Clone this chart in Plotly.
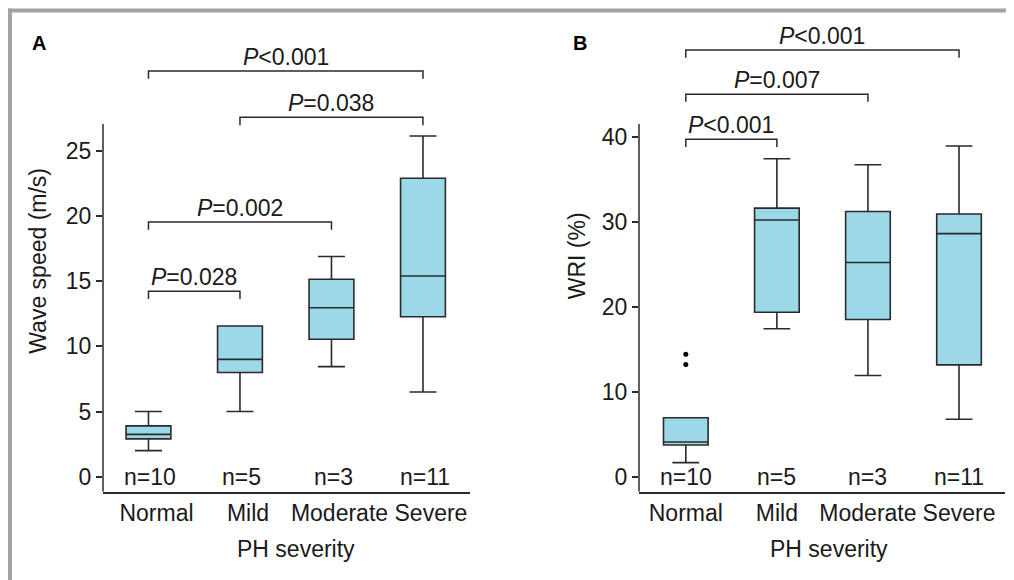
import plotly.graph_objects as go

categories = ["Normal", "Mild", "Moderate", "Severe"]
n_labels = ["n=10", "n=5", "n=3", "n=11"]

# Panel A: wave speed (m/s) box statistics
ws_lower = [2.0, 5.0, 8.45, 6.5]
ws_q1 = [2.9, 8.0, 10.55, 12.28]
ws_median = [3.25, 9.0, 12.97, 15.4]
ws_q3 = [3.9, 11.57, 15.15, 22.9]
ws_upper = [5.0, 11.57, 16.9, 26.15]

# Panel B: WRI (%) box statistics
wri_lower = [1.65, 17.4, 11.9, 6.75]
wri_q1 = [3.73, 19.35, 18.5, 13.15]
wri_median = [4.08, 30.2, 25.2, 28.6]
wri_q3 = [6.94, 31.6, 31.2, 30.9]
wri_upper = [6.94, 37.4, 36.7, 38.9]
wri_outlier_group = [0, 0]
wri_outliers = [14.4, 13.2]

# Significance brackets: (group from, group to, level, label)
ws_brackets = [(0, 3, 31.13, "<i>P</i>&lt;0.001"),
               (1, 3, 27.58, "<i>P</i>=0.038"),
               (0, 2, 19.55, "<i>P</i>=0.002"),
               (0, 1, 14.23, "<i>P</i>=0.028")]
wri_brackets = [(0, 3, 50.2, "<i>P</i>&lt;0.001"),
                (0, 2, 45.0, "<i>P</i>=0.007"),
                (0, 1, 39.7, "<i>P</i>&lt;0.001")]

ws_ticks = [0, 5, 10, 15, 20, 25]
wri_ticks = [0, 10, 20, 30, 40]

FONT = "Liberation Sans, Arial, sans-serif"
TXT = "#1a1a1a"
LINE = "#2a2a2a"
FILL = "#9bd8e8"
FS = 23

# page offset (default body margin) and figure size
OFF = 8
W, H = 1014 - OFF, 580 - OFF


def px(xp):
    return (xp - OFF) / W


def py(yp):
    return 1 - (yp - OFF) / H


fig = go.Figure()
xs = list(range(len(categories)))

fig.add_trace(go.Box(x=xs, q1=ws_q1, median=ws_median, q3=ws_q3,
                     lowerfence=ws_lower, upperfence=ws_upper,
                     width=0.49, whiskerwidth=0.6, fillcolor=FILL,
                     line=dict(color=LINE, width=1.6), boxpoints=False,
                     xaxis="x", yaxis="y", showlegend=False, hoverinfo="skip"))
fig.add_trace(go.Box(x=xs, q1=wri_q1, median=wri_median, q3=wri_q3,
                     lowerfence=wri_lower, upperfence=wri_upper,
                     width=0.49, whiskerwidth=0.6, fillcolor=FILL,
                     line=dict(color=LINE, width=1.6), boxpoints=False,
                     xaxis="x2", yaxis="y2", showlegend=False, hoverinfo="skip"))
fig.add_trace(go.Scatter(x=wri_outlier_group, y=wri_outliers, mode="markers",
                         marker=dict(color="black", size=5),
                         xaxis="x2", yaxis="y2", showlegend=False, hoverinfo="skip"))

shapes = []
annotations = []


def add_brackets(brackets, xref, yref, drop):
    for g0, g1, lvl, lab in brackets:
        shapes.append(dict(type="path", xref=xref, yref=yref,
                           path=f"M {g0},{lvl-drop} L {g0},{lvl} L {g1},{lvl} L {g1},{lvl-drop}",
                           line=dict(color=LINE, width=1.5)))
        annotations.append(dict(x=(g0 + g1) / 2, y=lvl, xref=xref, yref=yref,
                                text=lab, showarrow=False, xanchor="center", yanchor="bottom",
                                yshift=-1, font=dict(family=FONT, size=FS, color=TXT)))


add_brackets(ws_brackets, "x", "y", 0.6)
add_brackets(wri_brackets, "x2", "y2", 0.9)

for i, lab in enumerate(n_labels):
    annotations.append(dict(x=i, y=0, xref="x", yref="y", text=lab, showarrow=False,
                            xanchor="center", yanchor="middle", xshift=2,
                            font=dict(family=FONT, size=FS, color=TXT)))
    annotations.append(dict(x=i, y=0, xref="x2", yref="y2", text=lab, showarrow=False,
                            xanchor="center", yanchor="middle",
                            font=dict(family=FONT, size=FS, color=TXT)))

# y axis lines (only up to just above the top tick)
shapes.append(dict(type="line", xref="x domain", yref="y", x0=0, x1=0, y0=-1.15, y1=27.07,
                   line=dict(color=LINE, width=1.5)))
shapes.append(dict(type="line", xref="x2 domain", yref="y2", x0=0, x1=0, y0=-1.77, y1=41.48,
                   line=dict(color=LINE, width=1.5)))

# outer frame
shapes.append(dict(type="line", xref="paper", yref="paper", x0=px(8), x1=1, y0=py(10.5),
                   y1=py(10.5), line=dict(color="#a3a3a3", width=4)))
shapes.append(dict(type="line", xref="paper", yref="paper", x0=px(10), x1=px(10), y0=0,
                   y1=py(8.5), line=dict(color="#a3a3a3", width=4)))

annotations.append(dict(x=px(38.5), y=py(42.5), xref="paper", yref="paper", text="<b>A</b>",
                        xanchor="center", yanchor="middle",
                        showarrow=False, font=dict(family=FONT, size=20, color="black")))
annotations.append(dict(x=px(580), y=py(42.5), xref="paper", yref="paper", text="<b>B</b>",
                        xanchor="center", yanchor="middle",
                        showarrow=False, font=dict(family=FONT, size=20, color="black")))

# x axis titles
for cx in (296, 829):
    annotations.append(dict(x=px(cx), y=py(549), xref="paper", yref="paper", text="PH severity",
                            xanchor="center", yanchor="middle", showarrow=False,
                            font=dict(family=FONT, size=FS, color=TXT)))

xcommon = dict(tickvals=xs, ticktext=categories, showline=True, linecolor=LINE, linewidth=1.5,
               ticks="", showgrid=False, zeroline=False,
               tickfont=dict(family=FONT, size=FS, color=TXT))
ycommon = dict(showline=False, ticks="outside", ticklen=6, tickwidth=1.5, tickcolor=LINE,
               showgrid=False, zeroline=False, tickfont=dict(family=FONT, size=FS, color=TXT))

fig.update_layout(
    width=W, height=H, margin=dict(l=0, r=0, t=0, b=0),
    paper_bgcolor="white", plot_bgcolor="white",
    xaxis=dict(domain=[px(103), px(470)], range=[-0.497, 3.514], anchor="y",
               ticklabelshift=8, **xcommon),
    yaxis=dict(domain=[py(491.7), py(30)], range=[-1.151, 34.28], anchor="x",
               tickvals=ws_ticks,
               title=dict(text="Wave speed (m/s)", font=dict(family=FONT, size=FS, color=TXT), standoff=12),
               **ycommon),
    xaxis2=dict(domain=[px(639), px(1005)], range=[-0.514, 3.505], anchor="y2", **xcommon),
    yaxis2=dict(domain=[py(491.7), py(20)], range=[-1.765, 53.73], anchor="x2",
                tickvals=wri_ticks,
                title=dict(text="WRI (%)", font=dict(family=FONT, size=FS, color=TXT), standoff=9),
                **ycommon),
    shapes=shapes, annotations=annotations,
)

fig.write_html("out.html")
